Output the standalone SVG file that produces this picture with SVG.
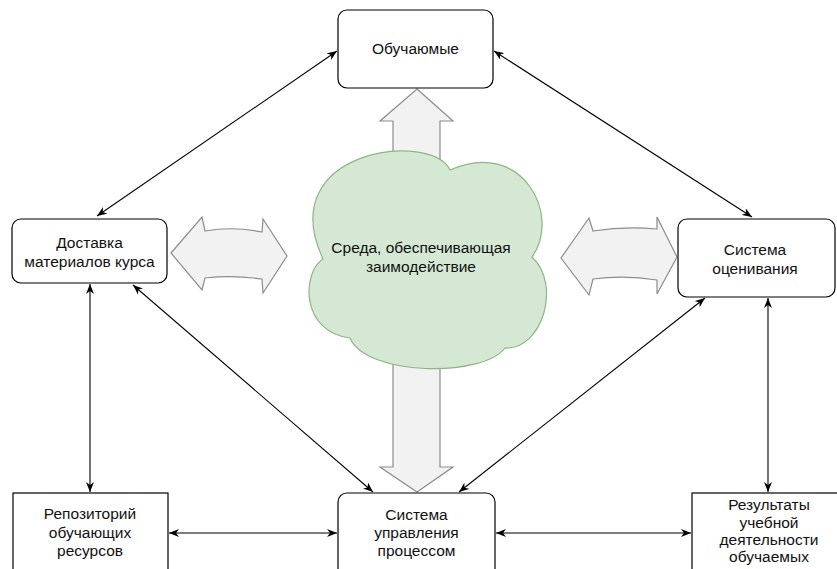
<svg xmlns="http://www.w3.org/2000/svg" width="837" height="569" viewBox="0 0 837 569">
<defs>
<marker id="ah" viewBox="0 0 10 8" refX="10" refY="4" markerWidth="10" markerHeight="8" markerUnits="userSpaceOnUse" orient="auto-start-reverse">
<path d="M0,0 L10,4 L0,8 L3,4 Z" fill="#000"/>
</marker>
</defs>
<style>
.box{fill:#fff;stroke:#000;stroke-width:1.2}
.big{fill:#f2f2f2;stroke:#8c8c8c;stroke-width:1.2;stroke-linejoin:miter}
.cloud{fill:#d5e8d4;stroke:#8fb585;stroke-width:1.2}
.t{font-family:"Liberation Sans",Arial,sans-serif;font-size:15.5px;fill:#111;text-anchor:middle}
.c{stroke:#000;stroke-width:1.1;fill:none;marker-start:url(#ah);marker-end:url(#ah)}
</style>
<rect width="837" height="569" fill="#fff"/>
<g id="big-arrows">
<path class="big" d="M417,89 L453,121 L440,121 L440,467 L453,467 L417,492 L380,467 L393,467 L393,121 L380,121 Z"/>
<path class="big" d="M171,253 L202,217 L205,231 Q233,226 262,232 L263,219 L287,256 L263,293 L262,279 Q233,275 205,278 L202,290 Z"/>
<path class="big" d="M561,258 L589,218 L593,231 Q625,226 657,229 L657,217 L677,257 L657,294 L657,280 Q625,275 593,279 L589,295 Z"/>
</g>
<g id="cloud">
<path class="cloud" d="M323,259 C302,272 300,332 350,338 C366,376 482,378 505,348 C542,350 562,285 532,257 C562,215 522,138 450,170 C430,130 272,150 323,259 Z"/>
<text class="t" x="421" y="253">Среда, обеспечивающая</text>
<text class="t" x="421" y="272">заимодействие</text>
</g>
<g id="connectors">
<line class="c" x1="97" y1="216" x2="337" y2="51"/>
<line class="c" x1="494" y1="51" x2="752" y2="217"/>
<line class="c" x1="90" y1="284" x2="90" y2="492"/>
<line class="c" x1="133" y1="285" x2="373" y2="492"/>
<line class="c" x1="705" y1="298" x2="459" y2="492"/>
<line class="c" x1="768" y1="298" x2="768" y2="492"/>
<line class="c" x1="169" y1="533" x2="337" y2="533"/>
<line class="c" x1="496" y1="533" x2="691" y2="533"/>
</g>
<g id="learners">
<rect class="box" x="338" y="10" width="155" height="78" rx="9"/>
<text class="t" x="415.5" y="54">Обучаюмые</text>
</g>
<g id="delivery">
<rect class="box" x="12" y="219" width="155" height="64" rx="9"/>
<text class="t" x="89.5" y="248">Доставка</text>
<text class="t" x="89.5" y="267">материалов курса</text>
</g>
<g id="assessment">
<rect class="box" x="678" y="219" width="157" height="78" rx="9"/>
<text class="t" x="755" y="255">Система</text>
<text class="t" x="755" y="274">оценивания</text>
</g>
<g id="repository">
<rect class="box" x="13" y="493" width="155" height="85"/>
<text class="t" x="90" y="519">Репозиторий</text>
<text class="t" x="90" y="538">обучающих</text>
<text class="t" x="90" y="556">ресурсов</text>
</g>
<g id="management">
<rect class="box" x="338" y="493" width="157" height="85" rx="9"/>
<text class="t" x="416.5" y="520">Система</text>
<text class="t" x="416.5" y="538">управления</text>
<text class="t" x="416.5" y="556">процессом</text>
</g>
<g id="results">
<rect class="box" x="692" y="493" width="155" height="85"/>
<text class="t" x="769" y="510">Результаты</text>
<text class="t" x="769" y="528">учебной</text>
<text class="t" x="769" y="545">деятельности</text>
<text class="t" x="769" y="562">обучаемых</text>
</g>
</svg>
